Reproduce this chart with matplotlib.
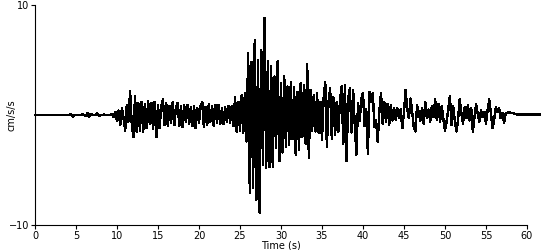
import matplotlib
matplotlib.use("Agg")
import matplotlib.pyplot as plt
import numpy as np

# accelerogram, one row per second, 0.2 s steps
dt = 0.2
accel = [
    0, 0, 0, 0, 0,
    0, 0, 0, 0, 0,
    0, 0, 0, 0, 0,
    0, 0, 0, 0, 0,
    0, 0, 0.1, -0.15, 0,
    0, 0, 0, 0, 0.05,
    0, -0.1, 0.2, -0.2, 0.1,
    0, 0, 0, 0.15, -0.1,
    0, 0, 0.05, 0, 0,
    0, 0, 0.1, -0.2, 0.3,
    -0.5, 0.4, -0.9, 0.6, -0.3,      # 10 s
    -1.4, 0.9, -0.6, 2.2, -0.8,
    -2.0, 1.7, -1.5, 1.1, -1.4,
    1.2, -1.5, 1.0, -1.2, 1.3,
    -0.8, 1.1, -1.3, 1.2, -2.0,
    0.9, -1.2, 0.8, 1.4, -0.9,
    1.1, -1.0, 0.8, -0.7, 1.2,
    -0.9, 0.7, 1.1, -1.0, 0.8,
    -1.1, 0.9, -0.6, 0.9, -0.8,
    0.7, -1.0, 0.8, -1.2, 0.6,
    -0.7, 0.8, 1.2, -1.1, 0.7,       # 20 s
    -0.9, 1.0, -0.6, 0.8, -1.0,
    0.9, -0.7, 0.9, -0.8, 0.6,
    -0.8, 0.7, -0.6, 0.8, -0.7,
    0.8, -1.0, 1.6, -1.5, 1.2,
    -1.4, 1.8, -1.6, 2.0, -2.4,
    5.6, -7.1, 4.8, -6.6, 6.8,
    -7.7, 5.0, -8.9, 5.9, -4.5,
    8.8, -4.8, 4.9, -4.7, 4.4,
    -4.7, 3.5, -3.0, 4.9, -4.2,
    2.9, -3.4, 3.5, -2.9, 2.6,       # 30 s
    -2.7, 3.0, -2.2, 2.5, -3.6,
    2.1, -3.2, 2.9, -2.0, 2.7,
    -2.6, 4.6, -3.9, 2.3, -1.4,
    1.8, -1.5, 2.0, -1.6, 1.2,
    -2.3, 1.5, 3.0, -2.9, 1.2,
    2.4, -2.2, 1.6, -1.8, 1.2,
    -1.5, 1.4, 2.6, -2.6, 2.7,
    -4.2, 1.5, 2.4, -1.6, 2.3,
    -0.9, -3.6, 1.1, -0.5, 1.5,
    2.0, -1.0, 0.5, -3.5, 2.1,       # 40 s
    1.2, 2.0, -1.1, -0.5, -2.4,
    0.3, 2.0, -0.8, 1.2, -0.6,
    1.0, -0.9, 0.9, -0.5, 0.6,
    -0.4, 0.6, -0.3, 0.5, -1.2,
    0.2, 2.3, 0.5, -0.3, 1.5,
    0.3, -1.1, -1.5, 0.9, 0.2,
    -0.5, 0.6, -0.8, 1.2, -0.3,
    0.5, -0.6, 0.8, -0.2, 1.4,
    -0.4, 1.0, -0.6, 0.8, -0.3,
    -1.4, -0.6, 0.5, 1.7, -0.9,      # 50 s
    0.8, -0.5, -1.5, -0.4, 1.4,
    0.2, -0.8, 0.7, -0.3, 0.9,
    -0.5, 0.6, -1.5, -0.2, 1.0,
    0.1, -0.6, 0.4, -0.2, 0.3,
    -0.8, 0.4, 1.4, 0.2, -1.2,
    -0.4, 0.7, 0.3, 0.6, -0.3,
    0.2, -0.7, 0.1, 0.2, 0.3,
    0.2, 0.2, 0.15, 0.1, 0.05,
    0.05, 0.05, 0.05, 0.05, 0.05,
    0.05, 0.05, 0.05, 0.05, 0.05,    # 60 s
    0.05, 0.05, 0.05, 0.05,
]
xticks = [0, 5, 10, 15, 20, 25, 30, 35, 40, 45, 50, 55, 60]
yticks = [-10, 10]

time = np.arange(len(accel)) * dt

fig = plt.figure(figsize=(5.5, 2.5), dpi=100)
ax = fig.add_axes([0.0636, 0.10, 0.8945, 0.88])

ax.plot(time, accel, color='black', linewidth=1.0, antialiased=False, clip_on=False)

ax.set_xlim(0, 60)
ax.set_ylim(-10, 10)
ax.set_xticks(xticks)
ax.set_yticks(yticks)
ax.spines['top'].set_visible(False)
ax.spines['right'].set_visible(False)
ax.tick_params(labelsize=7, length=3, width=0.8, pad=1)
ax.set_xlabel('Time (s)', fontsize=7, labelpad=0)
ax.set_ylabel('cm/s/s', fontsize=7)
ax.yaxis.set_label_coords(-0.038, 0.5)

fig.savefig('out.png', dpi=100)
